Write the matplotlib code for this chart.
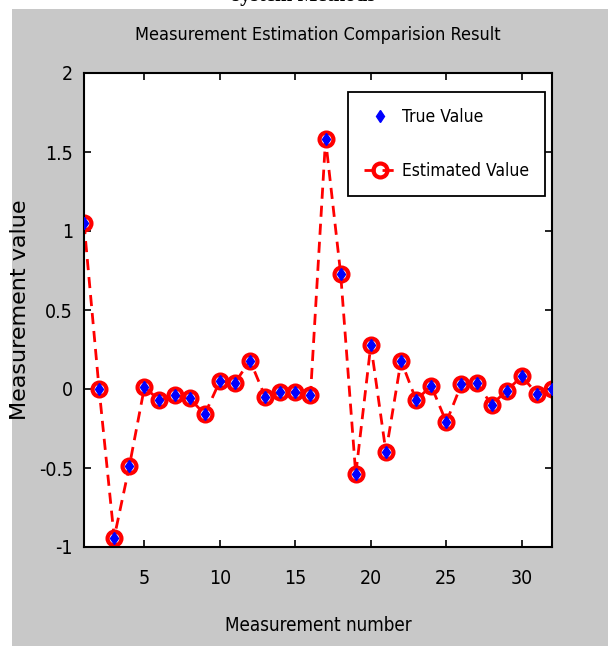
import numpy as np
import matplotlib
matplotlib.use('Agg')
import matplotlib.pyplot as plt
from matplotlib import font_manager
from matplotlib.patches import Rectangle

meas_num = np.arange(1, 33)
true_val = [1.05, 0.0, -0.94, -0.49, 0.01, -0.07, -0.04, -0.06, -0.16, 0.05,
            0.04, 0.18, -0.05, -0.02, -0.02, -0.04, 1.58, 0.73, -0.54, 0.28,
            -0.40, 0.18, -0.07, 0.02, -0.21, 0.03, 0.04, -0.10, -0.01, 0.08,
            -0.03, 0.0]
est_val = [1.05, 0.0, -0.94, -0.49, 0.01, -0.07, -0.04, -0.06, -0.16, 0.05,
           0.04, 0.18, -0.05, -0.02, -0.02, -0.04, 1.58, 0.73, -0.54, 0.28,
           -0.40, 0.18, -0.07, 0.02, -0.21, 0.03, 0.04, -0.10, -0.01, 0.08,
           -0.03, 0.0]
xticks = [5, 10, 15, 20, 25, 30]
yticks = [-1, -0.5, 0, 0.5, 1, 1.5, 2]
ytick_labels = ['-1', '-0.5', '0', '0.5', '1', '1.5', '2']

# look for a condensed face, the matlab text is narrow
narrow_fp = None
for f in font_manager.fontManager.ttflist:
    if ('Narrow' in f.name or 'Condensed' in f.name or f.stretch == 'condensed') \
            and f.style == 'normal' and f.weight in (400, 'normal'):
        narrow_fp = f.fname
        break


def fp(size):
    if narrow_fp:
        return font_manager.FontProperties(fname=narrow_fp, size=size)
    return font_manager.FontProperties(family='Liberation Sans', size=size * 0.8)


fig = plt.figure(figsize=(6.08, 6.46), dpi=100, facecolor='white')
# grey matlab window background
fig.patches.append(Rectangle((12 / 608, 0), 1, 1 - 9 / 646, transform=fig.transFigure,
                             facecolor='#c8c8c8', edgecolor='none', zorder=-1))
# cut-off caption text at the very top
fig.text(0.5, 1.006, 'system Methods', ha='center', va='center', fontsize=15,
         family='Liberation Serif', fontweight='bold')

ax = fig.add_axes([84 / 608, 1 - 547 / 646, (552 - 84) / 608, (547 - 73) / 646])
ax.set_facecolor('white')

ax.plot(meas_num, est_val, '--o', color='red', lw=2, dashes=(4, 2.5),
        markersize=10, markeredgewidth=3, markerfacecolor='none',
        markeredgecolor='red', label='Estimated Value', zorder=2)
ax.plot(meas_num, true_val, linestyle='none', marker='d', color='blue',
        markersize=6, label='True Value', zorder=3)

ax.set_xlim(1, 32)
ax.set_ylim(-1, 2)
ax.set_xticks(xticks)
ax.set_yticks(yticks)
ax.set_yticklabels(ytick_labels)
ax.tick_params(direction='in', top=True, right=True, length=5, width=1.2)
ax.tick_params(axis='x', pad=16)
ax.tick_params(axis='y', pad=8)
for lab in ax.get_xticklabels() + ax.get_yticklabels():
    lab.set_fontproperties(fp(14))
for sp in ax.spines.values():
    sp.set_linewidth(1.5)

ax.set_title('Measurement Estimation Comparision Result', fontproperties=fp(13), pad=24)
ax.set_xlabel('Measurement number', fontproperties=fp(13.5), labelpad=20)
ax.set_ylabel('Measurement value', family='DejaVu Sans', fontsize=16)
ax.yaxis.set_label_coords(-0.115, 0.5)

handles, labels = ax.get_legend_handles_labels()
leg = ax.legend(handles[::-1], labels[::-1], loc='upper right', fancybox=False,
                edgecolor='black', framealpha=1, prop=fp(12.5),
                borderpad=0.9, labelspacing=2.1, handlelength=1.8,
                handletextpad=0.4, borderaxespad=0,
                bbox_to_anchor=(0.985, 0.96))
leg.get_frame().set_linewidth(1.3)

fig.savefig('out.png', dpi=100, facecolor=fig.get_facecolor())
